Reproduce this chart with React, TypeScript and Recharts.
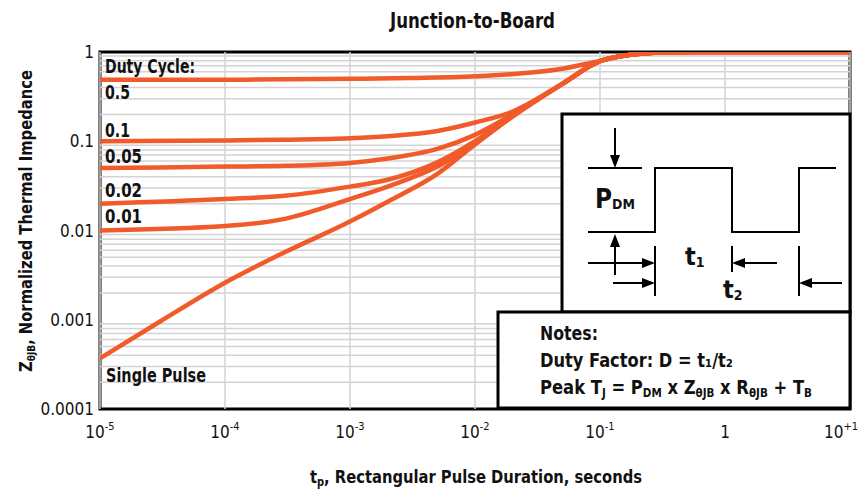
import { LineChart, Line, XAxis, YAxis, ReferenceLine, ReferenceArea } from 'recharts';

const FONT = "'DejaVu Sans Condensed', 'Liberation Sans Narrow', 'DejaVu Sans', sans-serif";
const ORANGE = '#f15a29';

// time points (s) shared by the lower duty-cycle curves
const tDuty = [1e-5, 1e-4, 3e-4, 1e-3, 2e-3, 5e-3, 1e-2, 2e-2, 5e-2, 0.1, 0.15, 0.25, 0.4, 0.6, 1, 10];
const zD01 = [0.1, 0.102, 0.104, 0.108, 0.114, 0.13, 0.162, 0.215, 0.44, 0.79, 0.9, 0.975, 0.995, 1, 1, 1];
const zD005 = [0.05, 0.052, 0.053, 0.057, 0.064, 0.082, 0.118, 0.2, 0.44, 0.79, 0.9, 0.975, 0.995, 1, 1, 1];
const zD002 = [0.02, 0.0225, 0.0245, 0.031, 0.037, 0.058, 0.1, 0.195, 0.44, 0.79, 0.9, 0.975, 0.995, 1, 1, 1];
const zD001 = [0.01, 0.0112, 0.0135, 0.0225, 0.031, 0.052, 0.095, 0.19, 0.44, 0.79, 0.9, 0.975, 0.995, 1, 1, 1];

const tD05 = [1e-5, 1e-4, 1e-3, 3e-3, 1e-2, 2.5e-2, 5e-2, 9e-2, 0.15, 0.25, 0.4, 0.6, 1, 10];
const zD05 = [0.49, 0.49, 0.5, 0.51, 0.535, 0.58, 0.65, 0.77, 0.9, 0.975, 0.995, 1, 1, 1];

const tSingle = [1e-5, 3e-5, 1e-4, 3e-4, 1e-3, 2e-3, 5e-3, 1e-2, 2e-2, 5e-2, 0.1, 0.15, 0.25, 0.4, 0.6, 1, 10];
const zSingle = [3.7e-4, 9.5e-4, 2.6e-3, 5.7e-3, 0.0126, 0.021, 0.043, 0.092, 0.19, 0.44, 0.79, 0.9, 0.975, 0.995, 1, 1, 1];

const xTicks = [1e-5, 1e-4, 1e-3, 1e-2, 1e-1, 1, 10];
const xTickBase = ['10', '10', '10', '10', '10', '1', '10'];
const xTickExp = ['-5', '-4', '-3', '-2', '-1', '', '+1'];
const yTicks = [0.0001, 0.001, 0.01, 0.1, 1];
const yTickLabels = ['0.0001', '0.001', '0.01', '0.1', '1'];

const decades = [1e-4, 1e-3, 1e-2, 1e-1];
const minorY = decades.flatMap((d) => [2, 3, 4, 5, 6, 7, 8, 9].map((m) => d * m));

const toPoints = (ts: number[], zs: number[]) => ts.map((t, i) => ({ t, z: zs[i] }));

const series = [
  { name: 'D=0.5', data: toPoints(tD05, zD05) },
  { name: 'D=0.1', data: toPoints(tDuty, zD01) },
  { name: 'D=0.05', data: toPoints(tDuty, zD005) },
  { name: 'D=0.02', data: toPoints(tDuty, zD002) },
  { name: 'D=0.01', data: toPoints(tDuty, zD001) },
  { name: 'Single Pulse', data: toPoints(tSingle, zSingle) },
];

const XTick = ({ x, y, payload }: any) => {
  const i = xTicks.indexOf(payload.value);
  const last = i === xTicks.length - 1;
  return (
    <text
      x={last ? x + 8 : x}
      y={y + 21}
      textAnchor={last ? 'end' : 'middle'}
      fontSize={17}
      fontFamily={FONT}
      fill="#111"
    >
      <tspan>{xTickBase[i]}</tspan>
      {xTickExp[i] && (
        <tspan dy={-8} fontSize={11}>
          {xTickExp[i]}
        </tspan>
      )}
    </text>
  );
};

const YTick = ({ x, y, payload }: any) => {
  const i = yTicks.indexOf(payload.value);
  return (
    <text x={x + 2} y={y + 6} textAnchor="end" fontSize={17} fontFamily={FONT} fill="#111">
      {yTickLabels[i]}
    </text>
  );
};

// text made of [main, subscript] pieces, subscripts dropped a little
const SubText = ({ parts, size = 12, drop = 3 }: { parts: [string, string][]; size?: number; drop?: number }) => (
  <>
    {parts.map(([main, sub], i) => (
      <>
        <tspan key={`m${i}`} dy={i === 0 ? 0 : -drop}>
          {main}
        </tspan>
        {sub && (
          <tspan key={`s${i}`} dy={drop} fontSize={size}>
            {sub}
          </tspan>
        )}
      </>
    ))}
  </>
);

const Label = ({ x, y, w, size, children }: { x: number; y: number; w: number; size: number; children: any }) => (
  <text x={x} y={y} fontSize={size} textLength={w} lengthAdjust="spacingAndGlyphs">
    {children}
  </text>
);

const arrowRight = (x: number, y: number) => `${x},${y} ${x - 13},${y - 5} ${x - 13},${y + 5}`;
const arrowLeft = (x: number, y: number) => `${x},${y} ${x + 13},${y - 5} ${x + 13},${y + 5}`;
const arrowDown = (x: number, y: number) => `${x},${y} ${x - 5},${y - 13} ${x + 5},${y - 13}`;
const arrowUp = (x: number, y: number) => `${x},${y} ${x - 5},${y + 13} ${x + 5},${y + 13}`;

const Overlay = () => (
  <svg width={859} height={489} style={{ position: 'absolute', left: 0, top: 0, pointerEvents: 'none' }}>
    <g fontFamily={FONT} fontWeight="bold" fill="#111">
      <Label x={390} y={28} w={165} size={21}>
        Junction-to-Board
      </Label>
      <Label x={310} y={483} w={332} size={18}>
        <SubText parts={[['t', 'p'], [', Rectangular Pulse Duration, seconds', '']]} />
      </Label>
      <text
        transform="translate(32,372) rotate(-90)"
        fontSize={18}
        textLength={302}
        lengthAdjust="spacingAndGlyphs"
      >
        <SubText size={11} parts={[['Z', 'θJB'], [', Normalized Thermal Impedance', '']]} />
      </text>

      <Label x={105} y={73} w={90} size={20}>
        Duty Cycle:
      </Label>
      <Label x={105} y={99} w={25} size={20}>
        0.5
      </Label>
      <Label x={105} y={137} w={25} size={20}>
        0.1
      </Label>
      <Label x={105} y={163} w={37} size={20}>
        0.05
      </Label>
      <Label x={105} y={197} w={37} size={20}>
        0.02
      </Label>
      <Label x={105} y={223} w={37} size={20}>
        0.01
      </Label>
      <Label x={106} y={382} w={100} size={20}>
        Single Pulse
      </Label>
    </g>

    {/* pulse diagram box */}
    <rect x={562} y={114} width={288} height={198} fill="#fff" stroke="#000" strokeWidth={3} />
    <g stroke="#000" strokeWidth={2} fill="none">
      <line x1={588} y1={168} x2={642} y2={168} />
      <line x1={615} y1={128} x2={615} y2={160} />
      <polyline points="588,232 655,232 655,168 732,168 732,232 799,232 799,168 836,168" />
      <line x1={615} y1={244} x2={615} y2={275} />
      <line x1={655} y1={246} x2={655} y2={296} />
      <line x1={732} y1={246} x2={732} y2={272} />
      <line x1={799} y1={246} x2={799} y2={296} />
      <line x1={588} y1={263} x2={645} y2={263} />
      <line x1={613} y1={283} x2={645} y2={283} />
      <line x1={742} y1={263} x2={777} y2={263} />
      <line x1={809} y1={283} x2={842} y2={283} />
    </g>
    <g fill="#000">
      <polygon points={arrowDown(615, 168)} />
      <polygon points={arrowUp(615, 234)} />
      <polygon points={arrowRight(655, 263)} />
      <polygon points={arrowRight(655, 283)} />
      <polygon points={arrowLeft(732, 263)} />
      <polygon points={arrowLeft(799, 283)} />
    </g>
    <g fontFamily={FONT} fontWeight="bold" fill="#111">
      <text x={595} y={208} fontSize={26} textLength={40} lengthAdjust="spacingAndGlyphs">
        <SubText size={14} drop={1} parts={[['P', 'DM']]} />
      </text>
      <text x={685} y={265} fontSize={25}>
        <SubText size={14} drop={2} parts={[['t', '1']]} />
      </text>
      <text x={723} y={298} fontSize={25}>
        <SubText size={14} drop={2} parts={[['t', '2']]} />
      </text>
    </g>

    {/* notes box */}
    <rect x={498} y={312} width={352} height={96} fill="#fff" stroke="#000" strokeWidth={3} />
    <g fontFamily={FONT} fontWeight="bold" fill="#111">
      <Label x={540} y={340} w={58} size={19}>
        Notes:
      </Label>
      <Label x={540} y={367} w={193} size={19}>
        Duty Factor: D = t₁/t₂
      </Label>
      <Label x={540} y={394} w={272} size={19}>
        <SubText
          parts={[
            ['Peak T', 'J'],
            [' = P', 'DM'],
            [' x Z', 'θJB'],
            [' x R', 'θJB'],
            [' + T', 'B'],
          ]}
        />
      </Label>
    </g>
  </svg>
);

export default function App() {
  return (
    <div style={{ position: 'absolute', left: 0, top: 0, width: 859, height: 489, background: '#fff' }}>
      <LineChart width={859} height={489} margin={{ top: 52, right: 9, bottom: 40, left: 10 }}>
        <XAxis
          dataKey="t"
          type="number"
          scale="log"
          domain={[1e-5, 10]}
          ticks={xTicks}
          allowDataOverflow
          axisLine={false}
          tickLine={false}
          tick={<XTick />}
          height={40}
          interval={0}
        />
        <YAxis
          type="number"
          scale="log"
          domain={[1e-4, 1]}
          ticks={yTicks}
          allowDataOverflow
          axisLine={false}
          tickLine={false}
          tick={<YTick />}
          width={90}
          interval={0}
        />
        {minorY.map((v) => (
          <ReferenceLine key={`h${v}`} y={v} stroke="#d3d3d3" strokeWidth={1.5} />
        ))}
        {xTicks.map((v) => (
          <ReferenceLine key={`v${v}`} x={v} stroke="#d3d3d3" strokeWidth={1.5} />
        ))}
        <ReferenceArea x1={1e-5} x2={10} y1={1e-4} y2={1} fill="none" fillOpacity={0} stroke="#000" strokeWidth={3} strokeOpacity={1} />
        {series.map((s) => (
          <Line
            key={s.name}
            data={s.data}
            dataKey="z"
            name={s.name}
            type="monotone"
            stroke={ORANGE}
            strokeWidth={4.5}
            dot={false}
            activeDot={false}
            isAnimationActive={false}
          />
        ))}
      </LineChart>
      <Overlay />
    </div>
  );
}
